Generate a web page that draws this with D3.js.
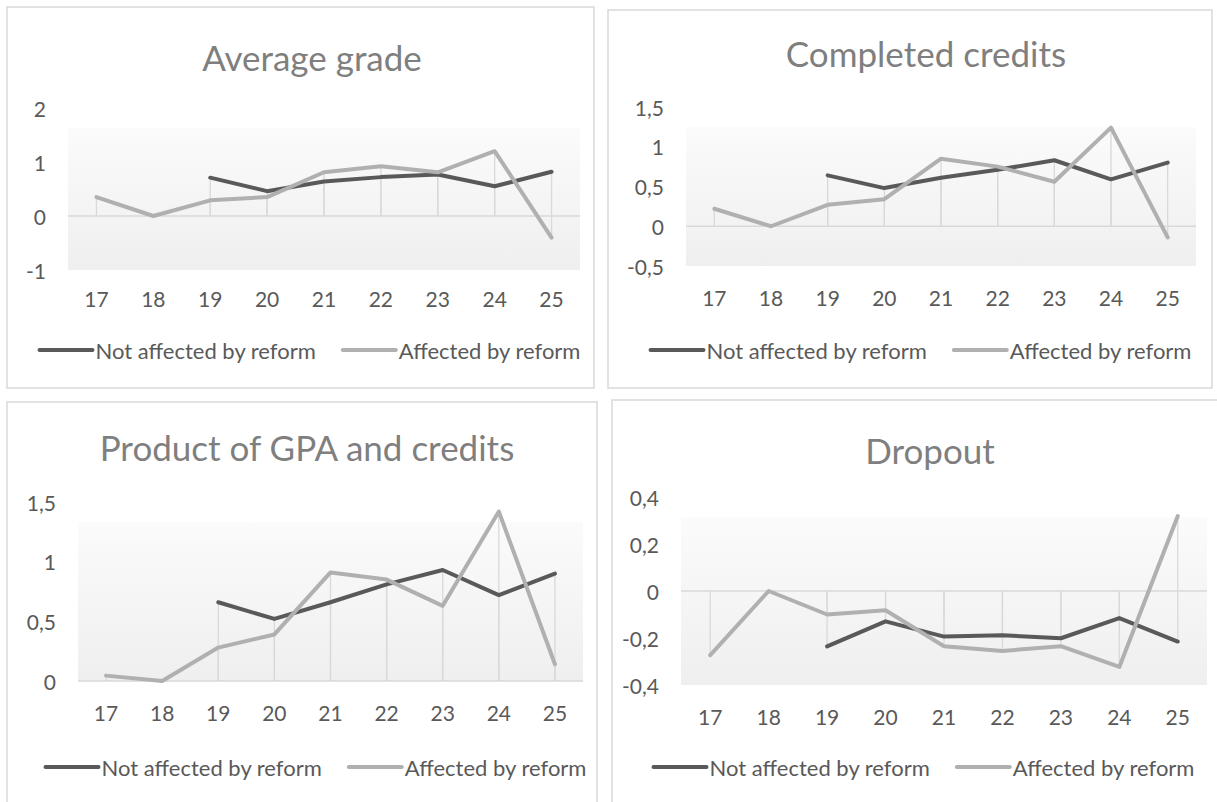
<!DOCTYPE html>
<html>
<head>
<meta charset="utf-8">
<script src="https://cdn.jsdelivr.net/npm/d3@7"></script>
<style>
  body { margin: 0; background: #fff; }
  svg { display: block; font-family: Lato, "Open Sans", sans-serif; }
</style>
</head>
<body>
<svg id="chart"></svg>
<script>
// Categories shared by all panels
const years = ["17", "18", "19", "20", "21", "22", "23", "24", "25"];
const seriesNames = ["Not affected by reform", "Affected by reform"];

// Average grade
const gradeNot = [null, null, 0.71, 0.46, 0.64, 0.72, 0.77, 0.55, 0.82];
const gradeAff = [0.35, 0, 0.29, 0.35, 0.81, 0.92, 0.81, 1.20, -0.40];
const gradeTicks = [-1, 0, 1, 2];

// Completed credits
const creditsNot = [null, null, 0.64, 0.48, 0.61, 0.71, 0.83, 0.59, 0.80];
const creditsAff = [0.22, 0, 0.27, 0.34, 0.85, 0.75, 0.56, 1.24, -0.14];
const creditsTicks = [-0.5, 0, 0.5, 1, 1.5];

// Product of GPA and credits
const productNot = [null, null, 0.66, 0.52, 0.66, 0.81, 0.93, 0.72, 0.90];
const productAff = [0.045, 0, 0.28, 0.39, 0.91, 0.85, 0.63, 1.42, 0.14];
const productTicks = [0, 0.5, 1, 1.5];

// Dropout
const dropoutNot = [null, null, -0.236, -0.129, -0.194, -0.188, -0.201, -0.115, -0.215];
const dropoutAff = [-0.273, 0, -0.10, -0.082, -0.235, -0.255, -0.235, -0.323, 0.319];
const dropoutTicks = [-0.4, -0.2, 0, 0.2, 0.4];

const width = 1217;
const height = 802;
const colors = ["#595959", "#b0b0b0"];

const svg = d3.select("#chart")
  .attr("width", width)
  .attr("height", height);

// plot-area gradient
const grad = svg.append("defs").append("linearGradient")
  .attr("id", "plotFill")
  .attr("x1", 0).attr("y1", 0).attr("x2", 0).attr("y2", 1);
grad.append("stop").attr("offset", 0).attr("stop-color", "#fbfbfb");
grad.append("stop").attr("offset", 1).attr("stop-color", "#efefef");

// layout of the 2x2 grid (page pixels)
const panels = [
  { title: "Average grade", values: [gradeNot, gradeAff], ticks: gradeTicks,
    box: [7, 7, 594, 388], xr: [68, 580], yr: [270, 108],
    titleX: 312, titleY: 57, labelY: 298, legendX: 309, legendY: 350 },
  { title: "Completed credits", values: [creditsNot, creditsAff], ticks: creditsTicks,
    box: [608, 10, 1212, 388], xr: [686, 1196], yr: [266, 107],
    titleX: 926, titleY: 53, labelY: 297, legendX: 920, legendY: 350 },
  { title: "Product of GPA and credits", values: [productNot, productAff], ticks: productTicks,
    box: [7, 402, 597, 812], xr: [78, 583], yr: [681, 502],
    titleX: 307, titleY: 447, labelY: 712, legendX: 315, legendY: 767 },
  { title: "Dropout", values: [dropoutNot, dropoutAff], ticks: dropoutTicks,
    box: [612, 400, 1225, 812], xr: [681, 1207], yr: [685, 497],
    titleX: 930, titleY: 450, labelY: 716, legendX: 923, legendY: 767 }
];

const fmt = (v) => String(v).replace(".", ",");

panels.forEach((p) => {
  const g = svg.append("g");

  // chart border
  g.append("rect")
    .attr("x", p.box[0]).attr("y", p.box[1])
    .attr("width", p.box[2] - p.box[0]).attr("height", p.box[3] - p.box[1])
    .attr("fill", "#fff")
    .attr("stroke", "#d9d9d9")
    .attr("stroke-width", 1.5);

  const x = d3.scalePoint().domain(years).range(p.xr).padding(0.5);
  const y = d3.scaleLinear().domain(d3.extent(p.ticks)).range(p.yr);

  // plot area fill (gradient starts a bit under the top)
  g.append("rect")
    .attr("x", p.xr[0]).attr("y", p.yr[1] + 20)
    .attr("width", p.xr[1] - p.xr[0]).attr("height", p.yr[0] - p.yr[1] - 20)
    .attr("fill", "url(#plotFill)");

  // title
  g.append("text")
    .attr("x", p.titleX).attr("y", p.titleY)
    .attr("text-anchor", "middle").attr("dominant-baseline", "central")
    .attr("fill", "#7f7f7f")
    .style("font-size", "35px")
    .text(p.title);

  // y tick labels
  g.selectAll(".ytick")
    .data(p.ticks)
    .enter().append("text")
    .attr("x", p.xr[0] - 22).attr("y", (d) => y(d))
    .attr("text-anchor", "end").attr("dominant-baseline", "central")
    .attr("fill", "#595959")
    .style("font-size", "21px")
    .text(fmt);

  // x tick labels
  g.selectAll(".xtick")
    .data(years)
    .enter().append("text")
    .attr("x", (d) => x(d)).attr("y", p.labelY)
    .attr("text-anchor", "middle").attr("dominant-baseline", "central")
    .attr("fill", "#595959")
    .style("font-size", "21px")
    .text((d) => d);

  // drop lines
  p.values.forEach((vals) => {
    g.selectAll(null)
      .data(vals.map((v, i) => ({ v, c: years[i] })).filter((d) => d.v != null && d.v !== 0))
      .enter().append("line")
      .attr("x1", (d) => x(d.c)).attr("x2", (d) => x(d.c))
      .attr("y1", y(0)).attr("y2", (d) => y(d.v))
      .attr("stroke", "#d9d9d9")
      .attr("stroke-width", 1.3);
  });

  // horizontal axis line at zero
  g.append("line")
    .attr("x1", p.xr[0]).attr("x2", p.xr[1])
    .attr("y1", y(0)).attr("y2", y(0))
    .attr("stroke", "#d9d9d9")
    .attr("stroke-width", 1.5);

  // series lines
  const line = d3.line()
    .defined((d) => d != null)
    .x((d, i) => x(years[i]))
    .y((d) => y(d));

  p.values.forEach((vals, k) => {
    g.append("path")
      .datum(vals)
      .attr("d", line)
      .attr("fill", "none")
      .attr("stroke", colors[k])
      .attr("stroke-width", 4)
      .attr("stroke-linejoin", "round")
      .attr("stroke-linecap", "round");
  });

  // legend
  const leg = g.append("g");
  let cx = 0;
  seriesNames.forEach((name, k) => {
    leg.append("line")
      .attr("x1", cx + 2).attr("x2", cx + 55)
      .attr("y1", 0).attr("y2", 0)
      .attr("stroke", colors[k])
      .attr("stroke-width", 4)
      .attr("stroke-linecap", "round");
    const t = leg.append("text")
      .attr("x", cx + 58).attr("y", 0)
      .attr("dominant-baseline", "central")
      .attr("fill", "#595959")
      .style("font-size", "22px")
      .text(name);
    cx += 58 + t.node().getComputedTextLength() + 25;
  });
  const legW = cx - 25;
  leg.attr("transform", `translate(${p.legendX - legW / 2},${p.legendY})`);
});
</script>
</body>
</html>
